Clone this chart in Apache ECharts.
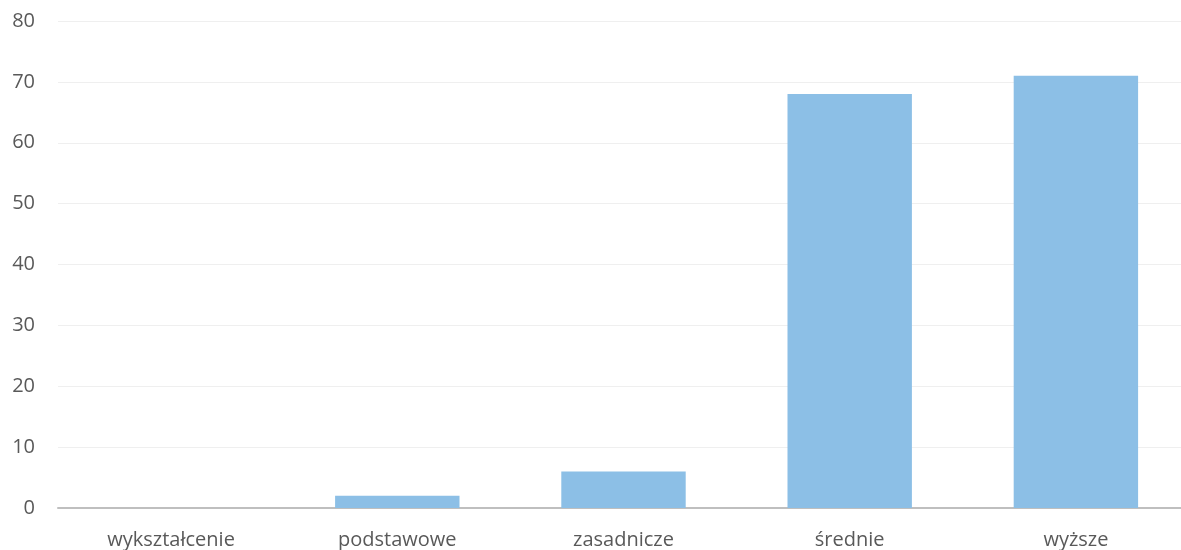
<!DOCTYPE html>
<html>
<head>
<meta charset="utf-8">
<script src="https://cdn.jsdelivr.net/npm/echarts@6/dist/echarts.min.js"></script>
<style>
  html, body { margin: 0; padding: 0; background: #ffffff; }
  #chart { width: 1181px; height: 550px; }
</style>
</head>
<body>
<div id="chart"></div>
<script>
// Education level categories and respondent counts
const categories = ['wykształcenie', 'podstawowe', 'zasadnicze', 'średnie', 'wyższe'];
const values = [0, 2, 6, 68, 71];
const yTicks = { min: 0, max: 80, interval: 10 };

const chart = echarts.init(document.getElementById('chart'), null, { renderer: 'canvas' });
chart.setOption({
  animation: false,
  backgroundColor: '#ffffff',
  textStyle: { fontFamily: '"Open Sans", "DejaVu Sans", sans-serif' },
  // plot area runs slightly past the right edge of the canvas
  grid: { left: 58, width: 1131, top: 21, bottom: 42, containLabel: false, outerBoundsMode: 'none' },
  xAxis: {
    type: 'category',
    data: categories,
    axisLine: { show: true, lineStyle: { color: '#bfbfbf', width: 2 } },
    axisTick: { show: false },
    axisLabel: { color: '#595959', fontSize: 20, margin: 22 }
  },
  yAxis: {
    type: 'value',
    min: yTicks.min,
    max: yTicks.max,
    interval: yTicks.interval,
    axisLine: { show: false },
    axisTick: { show: false },
    axisLabel: { color: '#595959', fontSize: 20, margin: 23 },
    splitLine: { lineStyle: { color: '#efefef', width: 1 } }
  },
  series: [{
    type: 'bar',
    data: values,
    barWidth: '55%',
    itemStyle: { color: '#8cbfe6' }
  }]
});
</script>
</body>
</html>
